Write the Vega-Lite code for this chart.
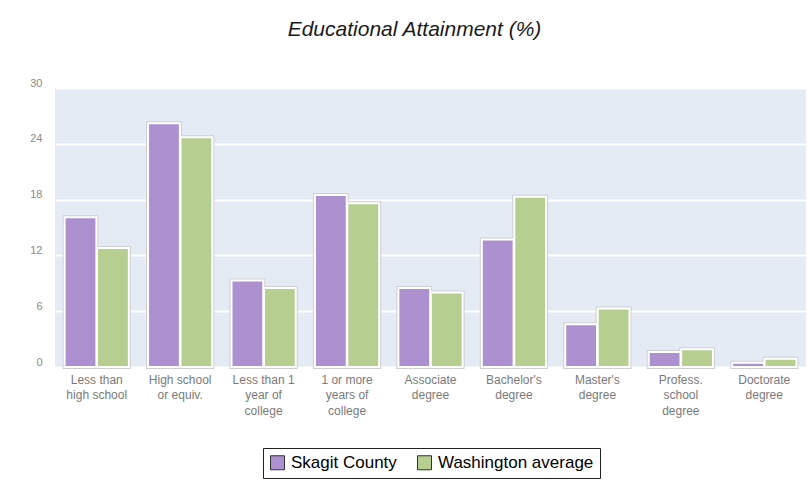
{
  "$schema": "https://vega.github.io/schema/vega-lite/v6.json",
  "width": 751,
  "height": 279,
  "autosize": {"type": "none"},
  "padding": {"left": 55, "top": 88, "right": 2, "bottom": 125},
  "background": "#ffffff",
  "title": {
    "text": "Educational Attainment (%)",
    "font": "Liberation Sans",
    "fontSize": 21,
    "fontStyle": "italic",
    "fontWeight": "normal",
    "color": "#1a1a1a",
    "anchor": "middle",
    "offset": 37,
    "dx": -16
  },
  "data": {
    "values": [
      {"category": "Less than\nhigh school", "series": "Skagit County", "value": 16.1},
      {"category": "Less than\nhigh school", "series": "Washington average", "value": 12.8},
      {"category": "High school\nor equiv.", "series": "Skagit County", "value": 26.2},
      {"category": "High school\nor equiv.", "series": "Washington average", "value": 24.7},
      {"category": "Less than 1\nyear of\ncollege", "series": "Skagit County", "value": 9.3},
      {"category": "Less than 1\nyear of\ncollege", "series": "Washington average", "value": 8.5},
      {"category": "1 or more\nyears of\ncollege", "series": "Skagit County", "value": 18.5},
      {"category": "1 or more\nyears of\ncollege", "series": "Washington average", "value": 17.6},
      {"category": "Associate\ndegree", "series": "Skagit County", "value": 8.5},
      {"category": "Associate\ndegree", "series": "Washington average", "value": 8.0},
      {"category": "Bachelor's\ndegree", "series": "Skagit County", "value": 13.7},
      {"category": "Bachelor's\ndegree", "series": "Washington average", "value": 18.3},
      {"category": "Master's\ndegree", "series": "Skagit County", "value": 4.6},
      {"category": "Master's\ndegree", "series": "Washington average", "value": 6.3},
      {"category": "Profess.\nschool\ndegree", "series": "Skagit County", "value": 1.6},
      {"category": "Profess.\nschool\ndegree", "series": "Washington average", "value": 1.9},
      {"category": "Doctorate\ndegree", "series": "Skagit County", "value": 0.45},
      {"category": "Doctorate\ndegree", "series": "Washington average", "value": 0.9}
    ]
  },
  "encoding": {
    "x": {
      "field": "category",
      "type": "nominal",
      "sort": null,
      "scale": {"paddingInner": 0.23, "paddingOuter": 0.115},
      "axis": {
        "title": null,
        "labelAngle": 0,
        "labelExpr": "split(datum.label, '\\n')",
        "labelFont": "Liberation Sans",
        "labelFontSize": 12,
        "labelColor": "#7a7a7a",
        "labelLineHeight": 15.5,
        "labelPadding": 7,
        "labelBaseline": "top",
        "ticks": false,
        "domain": false,
        "grid": false
      }
    },
    "xOffset": {
      "field": "series",
      "type": "nominal",
      "scale": {"paddingInner": 0.02}
    },
    "y": {
      "field": "value",
      "type": "quantitative",
      "scale": {"domain": [0, 30], "nice": false},
      "axis": {
        "title": null,
        "values": [0, 6, 12, 18, 24, 30],
        "labelFont": "Liberation Sans",
        "labelFontSize": 11,
        "labelColor": "#8a8a8a",
        "labelPadding": 13,
        "labelOffset": -5,
        "ticks": false,
        "domain": false,
        "grid": true,
        "gridColor": "#ffffff",
        "gridWidth": 2
      }
    },
    "color": {
      "field": "series",
      "type": "nominal",
      "scale": {
        "domain": ["Skagit County", "Washington average"],
        "range": ["#ac90cf", "#b6ce8f"]
      },
      "legend": {
        "title": null,
        "orient": "none",
        "direction": "horizontal",
        "legendX": 208,
        "legendY": 360,
        "strokeColor": "#222222",
        "fillColor": "#ffffff",
        "padding": 6,
        "symbolType": "square",
        "symbolSize": 196,
        "symbolStrokeColor": "#333333",
        "symbolStrokeWidth": 1,
        "symbolOpacity": 1,
        "labelFont": "Liberation Sans",
        "labelFontSize": 17,
        "labelColor": "#000000",
        "labelOffset": 5,
        "columnPadding": 18
      }
    }
  },
  "layer": [
    {
      "mark": {"type": "bar", "stroke": "#cfcfcf", "strokeWidth": 4, "opacity": 1}
    },
    {
      "mark": {"type": "bar", "stroke": "#ffffff", "strokeWidth": 2, "opacity": 1}
    }
  ],
  "config": {
    "view": {"fill": "#e5ebf5", "stroke": null}
  }
}
